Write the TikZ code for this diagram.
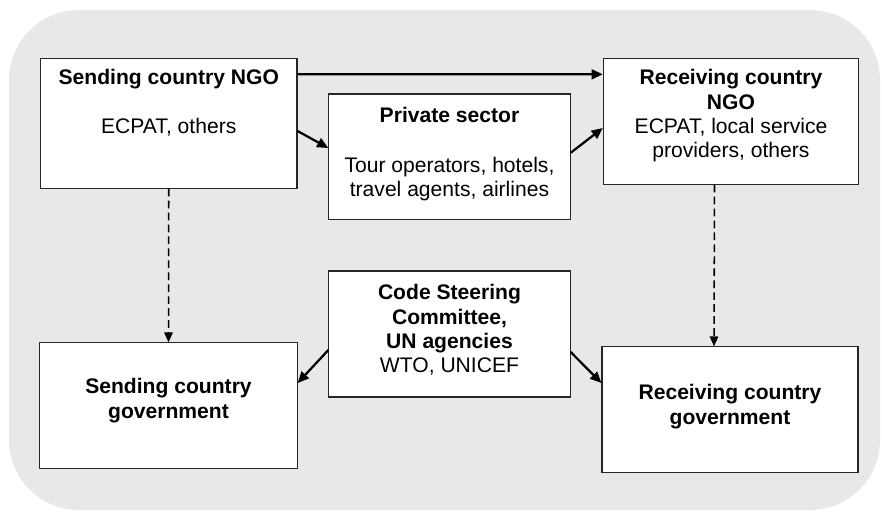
\documentclass[tikz,border=0pt]{standalone}
\usepackage{fontspec}
\setmainfont{Liberation Sans}
\usetikzlibrary{arrows.meta,calc}
\definecolor{panel}{RGB}{232,232,232}

\begin{document}
\begin{tikzpicture}[x=0.025cm,y=-0.025cm,
  org/.style={draw=black!85,line width=0.8pt,fill=white,inner sep=0pt},
  lbl/.style={anchor=north,align=center,inner sep=0pt,font=\fontsize{15}{17.2}\selectfont},
  flow/.style={line width=1.6pt,-{Triangle[length=8pt,width=7pt]}},
  link/.style={line width=1.1pt,dash pattern=on 5.5pt off 3pt,-{Triangle[length=7pt,width=6pt]}}]
% background
\useasboundingbox (0,0) rectangle (882,516);
\fill[panel,rounded corners=1.75cm] (9,10) rectangle (880,510);
% boxes
\node[org,minimum width=6.41cm,minimum height=3.23cm] (sndngo) at (168.75,123.5) {};
\node[org,minimum width=6.03cm,minimum height=3.14cm] (private) at (449.5,156.75) {};
\node[org,minimum width=6.38cm,minimum height=3.13cm] (rcvngo) at (731,121.5) {};
\node[org,minimum width=6.03cm,minimum height=3.15cm] (code) at (449.5,334) {};
\node[org,minimum width=6.43cm,minimum height=3.13cm] (sndgov) at (168.5,405.5) {};
\node[org,minimum width=6.40cm,minimum height=3.13cm] (rcvgov) at (730,409.5) {};
% texts
\node[lbl] (sndngo-t) at ($(sndngo.north)+(0,11)$)
  {\textbf{Sending country NGO}\\[0.6cm]ECPAT, others};
\node[lbl] (private-t) at ($(private.north)+(0,14)$)
  {\textbf{Private sector}\\[0.64cm]Tour operators, hotels,\\travel agents, airlines};
\node[lbl] (rcvngo-t) at ($(rcvngo.north)+(0,11)$)
  {\textbf{Receiving country}\\\textbf{NGO}\\ECPAT, local service\\providers, others};
\node[lbl] (code-t) at ($(code.north)+(0,14)$)
  {\textbf{Code Steering}\\\textbf{Committee,}\\\textbf{UN agencies}\\WTO, UNICEF};
\node[lbl] (sndgov-t) at ($(sndgov.north)+(0,36)$)
  {\textbf{Sending country}\\\textbf{government}};
\node[lbl] (rcvgov-t) at ($(rcvgov.north)+(0,38)$)
  {\textbf{Receiving country}\\\textbf{government}};
% arrows
\draw[flow] ($(sndngo.north east)+(0,16)$) -- ($(rcvngo.north west)+(0,16)$);
\draw[flow] ($(sndngo.east)+(0,7.5)$) -- ($(private.west)+(0,-8.75)$);
\draw[flow] ($(private.east)+(0,-4)$) -- ($(rcvngo.west)+(0,6.5)$);
\draw[flow] ($(code.west)+(0,16)$) -- ($(sndgov.east)+(0,-22.5)$);
\draw[flow] ($(code.east)+(0,18)$) -- ($(rcvgov.west)+(0,-26.5)$);
\draw[link] (sndngo.south) -- (sndgov.north);
\draw[link] ($(rcvngo.south)+(-16.5,0)$) -- ($(rcvgov.north)+(-16,0)$);
\end{tikzpicture}
\end{document}
